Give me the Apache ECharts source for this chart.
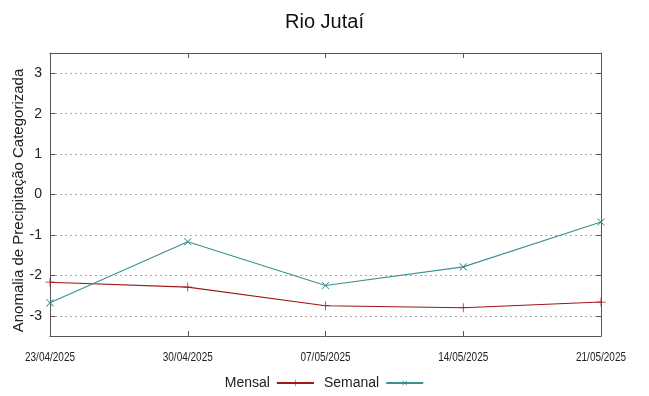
<!DOCTYPE html>
<html><head><meta charset="utf-8">
<script src="https://cdn.jsdelivr.net/npm/echarts@6/dist/echarts.min.js"></script>
<style>html,body{margin:0;padding:0;background:#fff}#c{width:649px;height:396px}</style>
</head><body><div id="c"></div>
<script>
const categories = ['23/04/2025','30/04/2025','07/05/2025','14/05/2025','21/05/2025'];
const mensal = [-2.17, -2.29, -2.75, -2.80, -2.66];
const semanal = [-2.68, -1.17, -2.25, -1.79, -0.68];
const yTicks = [-3, -2, -1, 0, 1, 2, 3];
const yName = 'Anomalia de Precipitação Categorizada';

const chart = echarts.init(document.getElementById('c'), null, {renderer: 'canvas'});
const frame = '#555';
const plus = 'path://M0,4.6H10V5.4H0Z M4.6,0H5.4V10H4.6Z';
const font = 'Liberation Sans, Arial, sans-serif';
chart.setOption({
  animation: false,
  backgroundColor: '#fff',
  textStyle: {fontFamily: font},
  title: {text: 'Rio Jutaí', left: 'center', top: 7,
    textStyle: {fontSize: 20, fontWeight: 'normal', color: '#111', fontFamily: font}},
  grid: {left: 50, right: 48, top: 53, bottom: 60, show: false, containLabel: false, outerBoundsMode: 'none'},
  legend: {
    bottom: 1, left: 'center', align: 'right', itemWidth: 37, itemHeight: 8, itemGap: 9,
    textStyle: {fontSize: 14, color: '#222', fontFamily: font, padding: [0, 2, 0, 0]},
    data: ['Mensal', 'Semanal']
  },
  xAxis: [
    {type: 'category', data: categories, boundaryGap: false, position: 'bottom',
      axisLine: {onZero: false, lineStyle: {color: frame, width: 1}},
      axisTick: {inside: true, length: 5, lineStyle: {color: frame}},
      axisLabel: {show: false}},
    {type: 'category', data: categories, boundaryGap: false, position: 'top',
      axisLine: {onZero: false, lineStyle: {color: frame, width: 1}},
      axisTick: {inside: true, length: 5, lineStyle: {color: frame}},
      axisLabel: {show: false}}
  ],
  yAxis: [
    {type: 'value', min: -3.5, max: 3.5, position: 'left',
      axisLine: {show: true, onZero: false, lineStyle: {color: frame, width: 1}},
      axisTick: {show: true, inside: true, length: 5, customValues: yTicks, lineStyle: {color: frame}},
      axisLabel: {fontSize: 14, color: '#222', margin: 8, customValues: yTicks},
      splitLine: {show: true, lineStyle: {color: '#aaa', type: [2, 3], width: 1}}},
    {type: 'value', min: -3.5, max: 3.5, position: 'right',
      axisLine: {show: true, onZero: false, lineStyle: {color: frame, width: 1}},
      axisTick: {show: true, inside: true, length: 5, customValues: yTicks, lineStyle: {color: frame}},
      axisLabel: {show: false},
      splitLine: {show: false}}
  ],
  series: [
    {name: 'Mensal', type: 'line', data: mensal, symbol: plus, symbolSize: 9,
      lineStyle: {color: '#a01818', width: 1.1}, itemStyle: {color: '#a01818'}},
    {name: 'Semanal', type: 'line', data: semanal, symbol: plus, symbolSize: 10, symbolRotate: 45,
      lineStyle: {color: '#3a9292', width: 1.1}, itemStyle: {color: '#2f8686'}}
  ]
});

// x tick labels (narrow) and y axis title, positioned via the chart's own scales
const bottomY = chart.convertToPixel({yAxisIndex: 0}, -3.5);
const topY = chart.convertToPixel({yAxisIndex: 0}, 3.5);
const graphics = categories.map(function (c, i) {
  const x = chart.convertToPixel({xAxisIndex: 0}, i);
  return {type: 'text', x: x, y: bottomY + 15, scaleX: 0.8,
    style: {text: c, font: '12.5px Liberation Sans, Arial, sans-serif', fill: '#222',
      textAlign: 'center', textVerticalAlign: 'top'}};
});
graphics.push({type: 'text', x: 18.5, y: (bottomY + topY) / 2 + 6, rotation: Math.PI / 2,
  style: {text: yName, font: '15px Liberation Sans, Arial, sans-serif', fill: '#222',
    textAlign: 'center', textVerticalAlign: 'middle'}});
chart.setOption({graphic: graphics});
</script></body></html>
